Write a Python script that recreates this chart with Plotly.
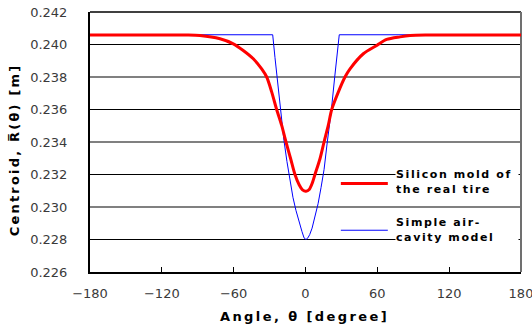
import plotly.graph_objects as go

# ---- data ----
red_angle = [-180, -100, -88.1, -71.4, -60.3, -52.0, -43.6, -36.6, -32.4, -28.2, -24.1, -19.9,
             -16.3, -12.4, -8.8, -5.2, -2.5, 0.4, 3.3, 5.8, 7.9, 12.1, 15.5, 19.0, 21.9, 27.4,
             33.0, 37.2, 48.3, 59.5, 67.8, 79.0, 87.3, 100, 180]
red_value = [0.24058, 0.24058, 0.24055, 0.24035, 0.24004, 0.23963, 0.23912, 0.23850, 0.23800,
             0.23707, 0.23600, 0.23502, 0.23400, 0.23297, 0.23200, 0.23135, 0.23105, 0.23097,
             0.23110, 0.23150, 0.23200, 0.23297, 0.23400, 0.23502, 0.23600, 0.23707, 0.23800,
             0.23850, 0.23943, 0.23994, 0.24031, 0.24047, 0.24055, 0.24058, 0.24058]

blue_angle = [-180, -27.4, -25.5, -23.5, -21.0, -18.0, -15.5, -13.0, -10.5, -8.0, -5.5, -3.0,
              -1.2, 0.4, 2.0, 3.5, 5.5, 8.0, 10.5, 13.0, 15.5, 18.2, 21.5, 24.4, 26.2, 28.2, 180]
blue_value = [0.24060, 0.24060, 0.2392, 0.2378, 0.2360, 0.2341, 0.2328, 0.2316, 0.2306, 0.2298,
              0.2291, 0.2285, 0.2281, 0.2280, 0.2281, 0.2283, 0.2287, 0.2294, 0.2302, 0.2312,
              0.2323, 0.2340, 0.2359, 0.2380, 0.2394, 0.24060, 0.24060]

x_ticks = [-180, -120, -60, 0, 60, 120, 180]
x_ticklabels = ["\u2212180", "\u2212120", "\u221260", "0", "60", "120", "180"]
y_ticks = [0.226, 0.228, 0.230, 0.232, 0.234, 0.236, 0.238, 0.240, 0.242]
y_ticklabels = ["0.226", "0.228", "0.230", "0.232", "0.234", "0.236", "0.238", "0.240", "0.242"]
grid_black = [0.228, 0.232, 0.236, 0.240]
grid_gray = [0.230, 0.234, 0.238]

series_names = ["Silicon mold of<br>the real tire", "Simple air-<br>cavity model"]

fig = go.Figure()
fig.add_trace(go.Scatter(x=blue_angle, y=blue_value, mode="lines",
                         line=dict(color="#0000ff", width=1), showlegend=False))
fig.add_trace(go.Scatter(x=red_angle, y=red_value, mode="lines",
                         line=dict(color="#ff0000", width=3, shape="spline", smoothing=0.8),
                         showlegend=False))

shapes = []
for v in grid_black:
    shapes.append(dict(type="line", xref="paper", yref="y", x0=0, x1=1, y0=v, y1=v,
                       line=dict(color="#000000", width=1), layer="below"))
for v in grid_gray:
    shapes.append(dict(type="line", xref="paper", yref="y", x0=0, x1=1, y0=v, y1=v,
                       line=dict(color="#808080", width=2), layer="below"))
# top and right frame
shapes.append(dict(type="line", xref="paper", yref="paper", x0=0, x1=1, y0=1, y1=1,
                   line=dict(color="#404040", width=2), layer="below"))
shapes.append(dict(type="line", xref="paper", yref="paper", x0=1, x1=1, y0=0, y1=1,
                   line=dict(color="#707070", width=2), layer="below"))
# legend sample lines
shapes.append(dict(type="line", xref="paper", yref="paper", x0=0.582, x1=0.691, y0=0.340, y1=0.340,
                   line=dict(color="#ff0000", width=3)))
shapes.append(dict(type="line", xref="paper", yref="paper", x0=0.582, x1=0.691, y0=0.1606, y1=0.1606,
                   line=dict(color="#0000ff", width=1)))

title_font = dict(family="DejaVu Sans", size=13, color="#000000")
leg_font = dict(family="DejaVu Sans", size=11, color="#000000")

def spaced(t, ls):
    return "<span style='letter-spacing:%spx'><b>%s</b></span>" % (ls, t)

annotations = [
    dict(text=spaced("Angle, \u03b8 [degree]", 2.4), xref="paper", yref="paper",
         x=0.4988, y=-0.1725, xanchor="center", yanchor="middle", showarrow=False, font=title_font),
    dict(text=spaced("Centroid, R\u0305(\u03b8) [m]", 2.2), xref="paper", yref="paper",
         x=-0.176, y=0.4686, xanchor="center", yanchor="middle", textangle=-90,
         showarrow=False, font=title_font),
    dict(text=spaced(series_names[0], 1.6), xref="paper", yref="paper",
         x=0.708, y=0.3466, xanchor="left", yanchor="middle", showarrow=False, font=leg_font,
         align="left", bgcolor="#ffffff", width=122, height=38, borderpad=0),
    dict(text=spaced(series_names[1], 1.6), xref="paper", yref="paper",
         x=0.708, y=0.1606, xanchor="left", yanchor="middle", showarrow=False, font=leg_font,
         align="left", bgcolor="#ffffff", width=122, height=38, borderpad=0),
]

fig.update_layout(
    width=532, height=326,
    margin=dict(l=90, r=11, t=12, b=54, autoexpand=False),
    paper_bgcolor="#ffffff", plot_bgcolor="#ffffff",
    shapes=shapes, annotations=annotations, showlegend=False,
    xaxis=dict(range=[-180, 180], tickvals=x_ticks, ticktext=x_ticklabels,
               ticks="inside", ticklen=5, tickwidth=1, tickcolor="#000000",
               showline=True, linecolor="#000000", linewidth=2, showgrid=False, zeroline=False,
               tickfont=dict(family="DejaVu Sans", size=13, color="#3a3a3a"),
               ticklabelstandoff=8, ticklabeloverflow="allow", automargin=False),
    yaxis=dict(range=[0.226, 0.242], tickvals=y_ticks, ticktext=y_ticklabels,
               ticks="", showline=True, linecolor="#000000", linewidth=2,
               showgrid=False, zeroline=False,
               tickfont=dict(family="DejaVu Sans", size=13, color="#3a3a3a"),
               ticklabelstandoff=18, automargin=False),
)

fig.write_html("out.html", config={"displayModeBar": False},
               post_script="document.body.style.margin='0';document.body.style.overflow='hidden';")
